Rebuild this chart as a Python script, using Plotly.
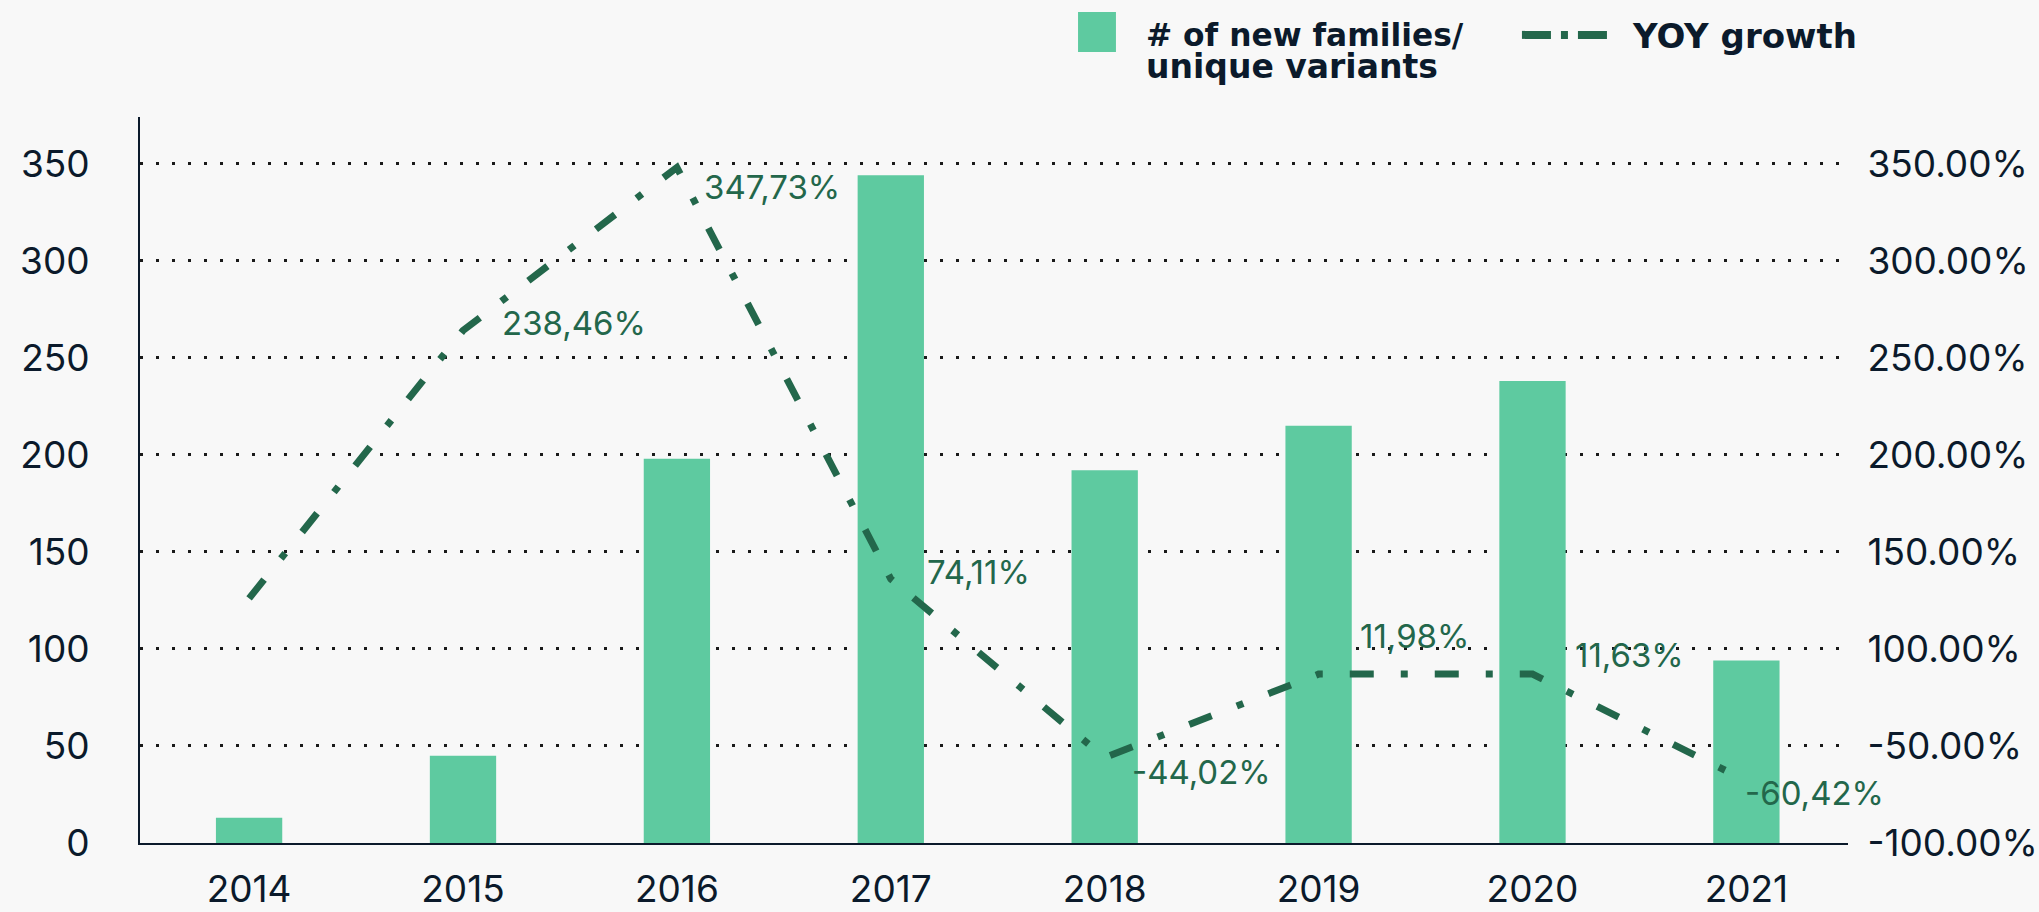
import plotly.graph_objects as go

years = ["2014", "2015", "2016", "2017", "2018", "2019", "2020", "2021"]
new_families = [13, 45, 198, 344, 192, 215, 238, 94]
# growth line, as drawn against the left scale
growth_pos = [126, 264, 348, 136, 44, 87, 87, 32]
growth_labels = ["", "238,46%", "347,73%", "74,11%", "-44,02%", "11,98%", "11,63%", "-60,42%"]
left_ticks = [0, 50, 100, 150, 200, 250, 300, 350]
right_ticktext = ["-100.00%", "-50.00%", "100.00%", "150.00%", "200.00%", "250.00%", "300.00%", "350.00%"]

BAR = "#5ecaa0"
LINE = "#23674b"
INK = "#0b1a2b"
BG = "#f8f8f8"

# label offsets in px (dx, dy)
label_shift = [(0, 0), (37, 8), (25, -20), (34, 7), (25, -14), (39, 38), (40, 19), (-3, -12)]

fig = go.Figure()
fig.add_trace(go.Bar(x=years, y=new_families, marker=dict(color=BAR, line=dict(width=0)),
                     width=0.31, name="# of new families/ unique variants"))
fig.add_trace(go.Scatter(x=years, y=growth_pos, yaxis="y2", mode="lines",
                         line=dict(color=LINE, width=7, dash="24px,27px,7px,27px"),
                         name="YOY growth"))

# category axis: place labels by index so "2015" is not read as a position
for i, (v, txt, (dx, dy)) in enumerate(zip(growth_pos, growth_labels, label_shift)):
    if not txt:
        continue
    fig.add_annotation(x=i, y=v, xref="x", yref="y2", text=txt, showarrow=False,
                       xanchor="left", yanchor="middle", xshift=dx, yshift=dy,
                       font=dict(family="Inter", size=33, color=LINE))

# legend drawn by hand
fig.add_shape(type="rect", xref="paper", yref="paper", x0=0.5492, x1=0.5714, y0=1.0895, y1=1.1446,
              fillcolor=BAR, line=dict(width=0))
fig.add_annotation(xref="paper", yref="paper", x=0.5878, y=1.1135, text="# of new families/",
                   showarrow=False, xanchor="left", yanchor="middle",
                   font=dict(family="DejaVu Sans", size=31.3, color=INK, weight="bold"))
fig.add_annotation(xref="paper", yref="paper", x=0.5878, y=1.0700, text="unique variants",
                   showarrow=False, xanchor="left", yanchor="middle",
                   font=dict(family="DejaVu Sans", size=33, color=INK, weight="bold"))
fig.add_shape(type="line", xref="paper", yref="paper", x0=0.8091, x1=0.8589, y0=1.1131, y1=1.1131,
              line=dict(color=LINE, width=8, dash="29px,10px,7px,10px"))
fig.add_annotation(xref="paper", yref="paper", x=0.8724, y=1.1122, text="YOY growth",
                   showarrow=False, xanchor="left", yanchor="middle",
                   font=dict(family="DejaVu Sans", size=34, color=INK, weight="bold"))

fig.update_layout(
    width=2039, height=912,
    margin=dict(l=140, r=191, t=117, b=69),
    paper_bgcolor=BG, plot_bgcolor=BG,
    showlegend=False,
    font=dict(family="Inter", color=INK),
    xaxis=dict(type="category", range=[-0.51, 7.475], showline=True, linecolor=INK, linewidth=2,
               showgrid=False, ticks="outside", ticklen=13, tickcolor="rgba(0,0,0,0)",
               tickfont=dict(family="Inter", size=37, color=INK), automargin=False),
    yaxis=dict(range=[0, 374], tickvals=left_ticks, showline=True, linecolor=INK, linewidth=2,
               showgrid=True, gridcolor="#1a1a1a", gridwidth=3, griddash="3px,13px",
               zeroline=False, ticks="outside", ticklen=41, tickcolor="rgba(0,0,0,0)",
               tickfont=dict(family="Inter", size=37, color=INK), automargin=False),
    yaxis2=dict(overlaying="y", side="right", range=[0, 374], tickvals=left_ticks,
                ticktext=right_ticktext, showgrid=False, zeroline=False, showline=False,
                ticks="outside", ticklen=11, tickcolor="rgba(0,0,0,0)",
                tickfont=dict(family="Inter", size=37, color=INK), automargin=False),
)

fig.write_html("out.html", config={"displayModeBar": False},
               post_script="document.body.style.margin='0';document.body.style.background='#f8f8f8';")
